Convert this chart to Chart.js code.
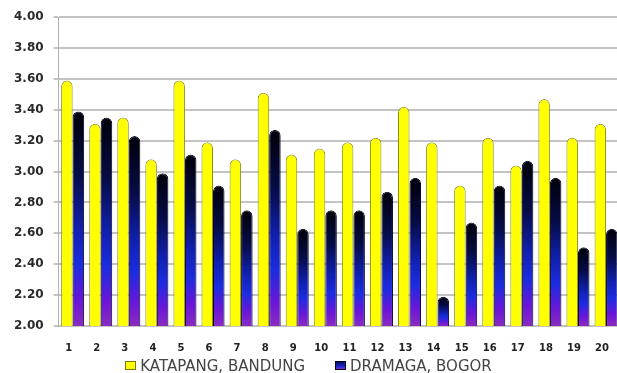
<!DOCTYPE html>
<html>
<head>
<meta charset="utf-8">
<script src="https://cdn.jsdelivr.net/npm/chart.js@4.4.1/dist/chart.umd.min.js"></script>
<style>
  html, body { margin: 0; padding: 0; background: #fff; overflow: hidden; }
  #wrap { position: relative; width: 621px; height: 373px; }
  #legend {
    position: absolute; left: 0; top: 357px; width: 617px;
    text-align: center; font: 15px 'DejaVu Sans', sans-serif; color: #444;
    line-height: 18px; white-space: nowrap;
  }
  #legend span.item { display: inline-block; margin: 0 15px; }
  #legend i {
    display: inline-block; width: 9px; height: 7px; margin-right: 4px;
    vertical-align: 1px; border: 1px solid #000;
  }
</style>
</head>
<body>
<div id="wrap"><canvas id="chart"></canvas></div>
<div id="legend"></div>
<script>
var categories = ['1', '2', '3', '4', '5', '6', '7', '8', '9', '10',
                  '11', '12', '13', '14', '15', '16', '17', '18', '19', '20'];
var seriesNames = ['KATAPANG, BANDUNG', 'DRAMAGA, BOGOR'];
var katapang = [3.59, 3.31, 3.35, 3.08, 3.59, 3.19, 3.08, 3.51, 3.11, 3.15,
                3.19, 3.22, 3.42, 3.19, 2.91, 3.22, 3.04, 3.47, 3.22, 3.31];
var dramaga = [3.39, 3.35, 3.23, 2.99, 3.11, 2.91, 2.75, 3.27, 2.63, 2.75,
               2.75, 2.87, 2.96, 2.19, 2.67, 2.91, 3.07, 2.96, 2.51, 2.63];
var yMin = 2.0;
var yMax = 4.0;
var yStep = 0.2;

Chart.defaults.font.family = "'DejaVu Sans', sans-serif";

// dark top fading through blue into purple at the base of each bar
function blueFill(ctx) {
  var chart = ctx.chart;
  if (ctx.type !== 'data' || !chart.chartArea) return '#1a1aa8';
  var y = chart.scales.y;
  var top = y.getPixelForValue(ctx.raw);
  var base = y.getPixelForValue(yMin);
  if (!isFinite(top) || base - top < 1) return '#1a1aa8';
  var g = chart.ctx.createLinearGradient(0, top, 0, base);
  g.addColorStop(0, '#000008');
  g.addColorStop(0.3, '#060c48');
  g.addColorStop(0.55, '#1020b0');
  g.addColorStop(0.72, '#1c2ce0');
  g.addColorStop(0.88, '#6a16d8');
  g.addColorStop(1, '#8a2cc0');
  return g;
}

var capRadius = { topLeft: 6, topRight: 6, bottomLeft: 0, bottomRight: 0 };

var legendSwatches = [
  'background:#ffff00;border-color:#7a7a10',
  'background:linear-gradient(#0a0a60,#1c2ce0 70%,#8a2cc0);border-color:#000020'
];

function buildLegend() {
  var el = document.getElementById('legend');
  el.innerHTML = seriesNames.map(function (name, i) {
    return '<span class="item"><i style="' + legendSwatches[i] + '"></i>' + name + '</span>';
  }).join('');
}

buildLegend();

new Chart(document.getElementById('chart').getContext('2d'), {
  type: 'bar',
  data: {
    labels: categories,
    datasets: [{
      label: seriesNames[0],
      data: katapang,
      backgroundColor: '#ffff00',
      borderColor: '#8c8c1e',
      borderWidth: 1,
      borderSkipped: 'bottom',
      borderRadius: capRadius,
      categoryPercentage: 0.82,
      barPercentage: 1.0
    }, {
      label: seriesNames[1],
      data: dramaga,
      backgroundColor: blueFill,
      borderColor: '#000020',
      borderWidth: 1,
      borderSkipped: 'bottom',
      borderRadius: capRadius,
      categoryPercentage: 0.82,
      barPercentage: 1.0
    }]
  },
  options: {
    responsive: true,
    maintainAspectRatio: false,
    animation: false,
    layout: { padding: { top: 16, left: 4, right: 0, bottom: 11 } },
    plugins: {
      tooltip: { enabled: false },
      legend: { display: false }
    },
    scales: {
      x: {
        grid: { display: false },
        border: { display: false },
        ticks: {
          color: '#222',
          padding: 8,
          labelOffset: -4,
          autoSkip: false,
          maxRotation: 0,
          font: { size: 10, weight: 'bold' }
        }
      },
      y: {
        min: yMin,
        max: yMax,
        grid: { color: '#c4c4c4', lineWidth: 2, tickLength: 5 },
        border: { color: '#b0b0b0', width: 1 },
        ticks: {
          stepSize: yStep,
          color: '#2a2a2a',
          padding: 10,
          font: { size: 12, weight: 'bold' },
          callback: function (v) { return Number(v).toFixed(2); }
        }
      }
    }
  }
});
</script>
</body>
</html>
